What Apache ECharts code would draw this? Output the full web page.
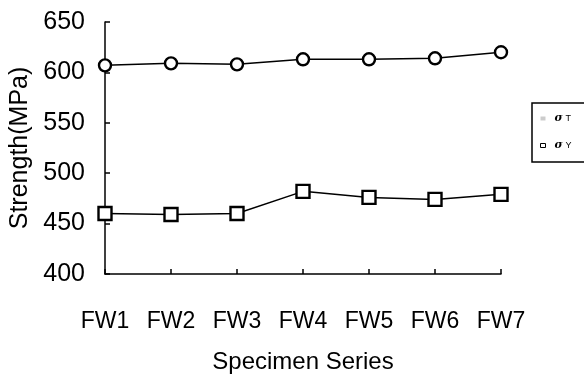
<!DOCTYPE html>
<html>
<head>
<meta charset="utf-8">
<script src="https://cdn.jsdelivr.net/npm/echarts@6/dist/echarts.min.js"></script>
<style>
  html, body { margin: 0; padding: 0; background: #fff; }
  #chart { width: 584px; height: 380px; }
</style>
</head>
<body>
<div id="chart"></div>
<script>
var categories = ['FW1', 'FW2', 'FW3', 'FW4', 'FW5', 'FW6', 'FW7'];
var sigmaT = [607, 609, 608, 613, 613, 614, 620];
var sigmaY = [460, 459, 460, 482, 476, 474, 479];
var yTicks = [400, 450, 500, 550, 600, 650];

var chart = echarts.init(document.getElementById('chart'));
var font = 'Liberation Sans, Arial, sans-serif';

var option = {
  animation: false,
  backgroundColor: '#fff',
  grid: { left: 105, right: 83, top: 22, bottom: 106, outerBoundsMode: 'none', containLabel: false },
  legend: {
    left: 532, top: 103,
    orient: 'vertical',
    borderColor: '#000', borderWidth: 1.5,
    padding: [10, 40, 11, 8],
    itemGap: 16,
    itemWidth: 5, itemHeight: 4,
    icon: 'rect',
    formatter: function (name) {
      return '{s|σ}{t|' + name.slice(1) + '}';
    },
    textStyle: {
      rich: {
        s: { fontFamily: 'DejaVu Serif', fontStyle: 'italic', fontWeight: 'bold', fontSize: 11, color: '#000', padding: [0, 0, 0, 4] },
        t: { fontFamily: font, fontSize: 9, color: '#000', padding: [0, 0, 0, 3] }
      }
    },
    data: [
      { name: 'σT', itemStyle: { color: '#ccc', borderWidth: 0 } },
      { name: 'σY', itemStyle: { color: '#fff', borderColor: '#000', borderWidth: 1 } }
    ]
  },
  xAxis: {
    type: 'category',
    data: categories,
    boundaryGap: false,
    name: 'Specimen Series',
    nameLocation: 'middle',
    nameGap: 76,
    nameTextStyle: { fontFamily: font, fontSize: 24, color: '#000' },
    axisLine: { lineStyle: { color: '#000', width: 1.5 } },
    axisTick: { inside: true, length: 5, alignWithLabel: true, lineStyle: { color: '#000', width: 1.5 } },
    axisLabel: { fontFamily: font, fontSize: 23, color: '#000', margin: 36, interval: 0, hideOverlap: false },
    splitLine: { show: false }
  },
  yAxis: {
    type: 'value',
    min: yTicks[0], max: yTicks[yTicks.length - 1], interval: 50,
    name: 'Strength(MPa)',
    nameLocation: 'middle',
    nameGap: 72,
    nameTextStyle: { fontFamily: font, fontSize: 25, color: '#000' },
    axisLine: { show: true, lineStyle: { color: '#000', width: 1.5 } },
    axisTick: { show: true, inside: true, length: 5, lineStyle: { color: '#000', width: 1.5 } },
    axisLabel: { fontFamily: font, fontSize: 25, color: '#000', margin: 20 },
    splitLine: { show: false }
  },
  series: [
    {
      name: 'σT', type: 'line', data: sigmaT,
      symbol: 'circle', symbolSize: 12,
      lineStyle: { color: '#000', width: 1.5 },
      itemStyle: { color: '#fff', borderColor: '#000', borderWidth: 2.4 }
    },
    {
      name: 'σY', type: 'line', data: sigmaY,
      symbol: 'rect', symbolSize: 13,
      lineStyle: { color: '#000', width: 1.5 },
      itemStyle: { color: '#fff', borderColor: '#000', borderWidth: 2.4 }
    }
  ]
};

chart.setOption(option);
</script>
</body>
</html>
